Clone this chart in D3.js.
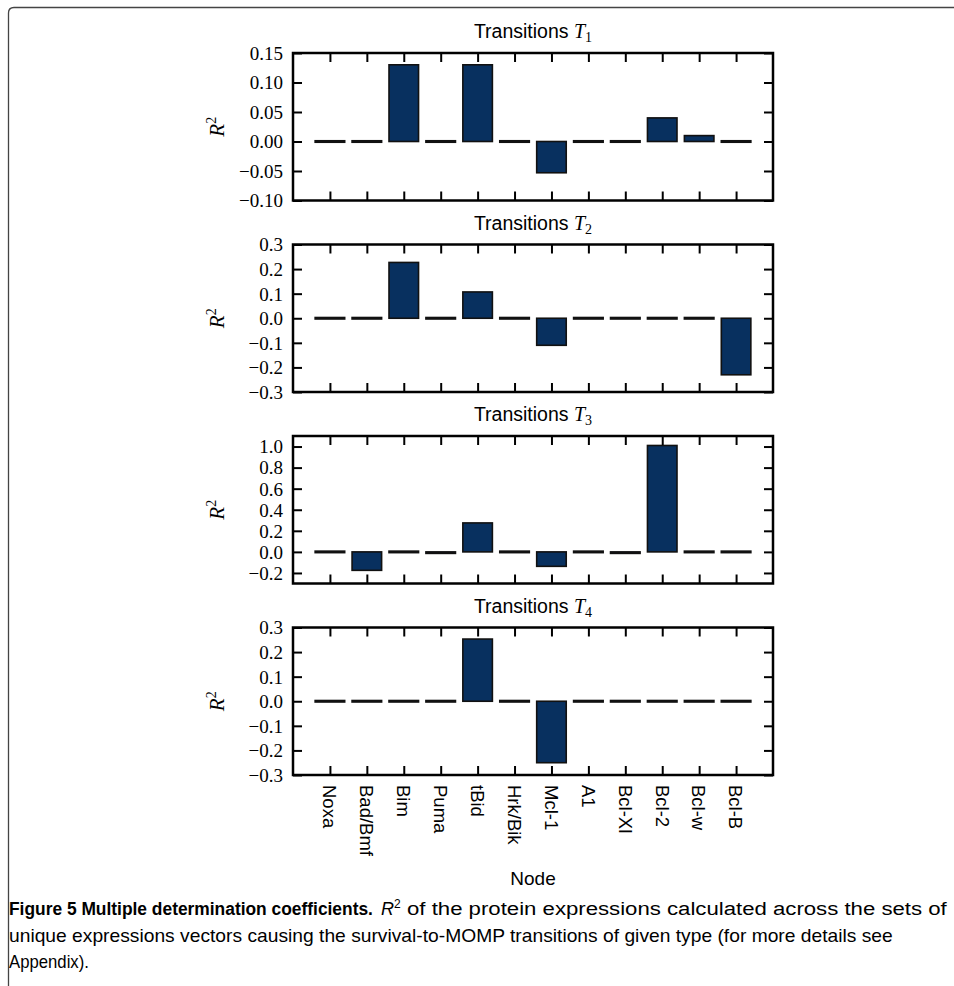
<!DOCTYPE html>
<html lang="en">
<head>
    <meta charset="UTF-8">
    <title>Multiple determination coefficients</title>
    <script src="https://d3js.org/d3.v7.min.js"></script>
    <style>
        body { margin: 0; background: #fff; }
    </style>
</head>
<body>
    <div id="chart"></div>

    <script>
        // Data
        const nodes = ["Noxa", "Bad/Bmf", "Bim", "Puma", "tBid", "Hrk/Bik", "Mcl-1", "A1", "Bcl-Xl", "Bcl-2", "Bcl-w", "Bcl-B"];
        const t1 = [0, 0, 0.13, 0, 0.13, 0, -0.053, 0, 0, 0.04, 0.01, 0];
        const t2 = [0, 0, 0.227, 0, 0.107, 0, -0.11, 0, 0, 0, 0, -0.23];
        const t3 = [0, -0.175, 0, -0.01, 0.275, 0, -0.137, 0, -0.01, 1.01, 0, 0];
        const t4 = [0, 0, 0, 0, 0.253, 0, -0.25, 0, 0, 0, 0, 0];
        const ticks1 = [-0.10, -0.05, 0.00, 0.05, 0.10, 0.15];
        const ticks2 = [-0.3, -0.2, -0.1, 0.0, 0.1, 0.2, 0.3];
        const ticks3 = [-0.2, 0.0, 0.2, 0.4, 0.6, 0.8, 1.0];
        const ticks4 = [-0.3, -0.2, -0.1, 0.0, 0.1, 0.2, 0.3];

        const panels = [
            { sub: "1", values: t1, domain: [-0.10, 0.15], ticks: ticks1, fmt: ".2f" },
            { sub: "2", values: t2, domain: [-0.3, 0.3], ticks: ticks2, fmt: ".1f" },
            { sub: "3", values: t3, domain: [-0.3, 1.1], ticks: ticks3, fmt: ".1f" },
            { sub: "4", values: t4, domain: [-0.3, 0.3], ticks: ticks4, fmt: ".1f" }
        ];

        const W = 954, H = 986;
        const left = 293, right = 773;
        const top0 = 53, pitch = 191.5, ph = 147.5;
        const sans = "'Liberation Sans', Arial, sans-serif";
        const serif = "'Liberation Serif', 'DejaVu Serif', serif";
        const barColor = "#08305f";

        const svg = d3.select("#chart")
            .append("svg")
            .attr("width", W)
            .attr("height", H);

        // page frame with rounded corner
        svg.append("path")
            .attr("d", "M8.5,986 L8.5,13 Q8.5,7.5 14,7.5 L954,7.5")
            .attr("fill", "none")
            .attr("stroke", "#444")
            .attr("stroke-width", 1.3);

        const x = d3.scaleLinear().domain([-1, 12]).range([left, right]);

        panels.forEach((p, k) => {
            const top = top0 + k * pitch;
            const y = d3.scaleLinear().domain(p.domain).range([top + ph, top]);
            const g = svg.append("g");

            // bars (zero values drawn as a thin dash)
            g.selectAll("rect.bar")
                .data(p.values)
                .enter().append("rect")
                .attr("class", "bar")
                .attr("x", (d, i) => x(i - 0.4))
                .attr("width", x(0.8) - x(0))
                .attr("y", d => Math.min(y(d), y(0)) - (d === 0 ? 0.75 : 0))
                .attr("height", d => Math.max(Math.abs(y(d) - y(0)), 1.5))
                .attr("fill", barColor)
                .attr("stroke", "#111")
                .attr("stroke-width", 1.6);

            // y axes (ticks inside)
            const fmt = d3.format(p.fmt);
            const yl = g.append("g")
                .attr("transform", `translate(${left},0)`)
                .call(d3.axisRight(y).tickValues(p.ticks).tickSize(9).tickFormat(""));
            const yr = g.append("g")
                .attr("transform", `translate(${right},0)`)
                .call(d3.axisLeft(y).tickValues(p.ticks).tickSize(9).tickFormat(""));
            [yl, yr].forEach(a => {
                a.select(".domain").remove();
                a.selectAll("line").attr("stroke", "#000").attr("stroke-width", 2);
            });

            // tick labels
            g.selectAll("text.ytick")
                .data(p.ticks)
                .enter().append("text")
                .attr("class", "ytick")
                .attr("x", left - 10)
                .attr("y", d => y(d))
                .attr("dy", "0.36em")
                .attr("text-anchor", "end")
                .style("font-family", serif)
                .style("font-size", "19px")
                .text(d => fmt(d));

            // x axes (ticks inside top and bottom)
            const xb = g.append("g")
                .attr("transform", `translate(0,${top + ph})`)
                .call(d3.axisTop(x).tickValues(d3.range(nodes.length)).tickSize(9).tickFormat(""));
            const xt = g.append("g")
                .attr("transform", `translate(0,${top})`)
                .call(d3.axisBottom(x).tickValues(d3.range(nodes.length)).tickSize(9).tickFormat(""));
            [xb, xt].forEach(a => {
                a.select(".domain").remove();
                a.selectAll("line").attr("stroke", "#000").attr("stroke-width", 2);
            });

            // frame
            g.append("rect")
                .attr("x", left)
                .attr("y", top)
                .attr("width", right - left)
                .attr("height", ph)
                .attr("fill", "none")
                .attr("stroke", "#000")
                .attr("stroke-width", 2.5);

            // title
            const title = g.append("text")
                .attr("x", (left + right) / 2)
                .attr("y", top - 15)
                .attr("text-anchor", "middle")
                .style("font-family", sans)
                .style("font-size", "19.5px");
            title.append("tspan").text("Transitions ");
            title.append("tspan").style("font-family", serif).style("font-style", "italic").style("font-size", "20px").text("T");
            title.append("tspan").style("font-family", serif).style("font-size", "14px").attr("dy", 4).text(p.sub);

            // y label
            const yc = top + ph / 2;
            const ylab = g.append("text")
                .attr("transform", `translate(224,${yc}) rotate(-90)`)
                .attr("text-anchor", "middle")
                .style("font-family", serif)
                .style("font-size", "21px");
            ylab.append("tspan").style("font-style", "italic").text("R");
            ylab.append("tspan").attr("dy", -8).style("font-size", "14px").text("2");
        });

        // category labels below the last panel
        const base = top0 + 3 * pitch + ph;
        svg.selectAll("text.node")
            .data(nodes)
            .enter().append("text")
            .attr("class", "node")
            .attr("transform", (d, i) => `translate(${x(i)},${base + 10}) rotate(90)`)
            .attr("dy", "0.36em")
            .style("font-family", sans)
            .style("font-size", "18.5px")
            .text(d => d);

        svg.append("text")
            .attr("x", (left + right) / 2)
            .attr("y", 885)
            .attr("text-anchor", "middle")
            .style("font-family", sans)
            .style("font-size", "19px")
            .text("Node");

        // caption: each piece is squeezed horizontally to the width it has in the figure
        const capFont = "'Liberation Sans', Arial, sans-serif";
        function fit(str, x0, y0, width, size, weight) {
            const t = svg.append("text")
                .style("font-family", capFont)
                .style("font-size", size + "px")
                .style("font-weight", weight || "normal")
                .text(str);
            const len = t.node().getComputedTextLength();
            t.attr("transform", `translate(${x0},${y0}) scale(${width / len},1)`);
            return t;
        }

        fit("Figure 5 Multiple determination coefficients.", 9, 915, 364, 18, "bold");
        const r2 = svg.append("text")
            .attr("x", 381).attr("y", 915)
            .style("font-family", capFont)
            .style("font-size", "18px");
        r2.append("tspan").style("font-style", "italic").text("R");
        r2.append("tspan").attr("dy", -7).style("font-size", "12px").text("2");
        fit("of the protein expressions calculated across the sets of", 407, 915, 540, 19);
        fit("unique expressions vectors causing the survival-to-MOMP transitions of given type (for more details see", 9, 942, 884, 18);
        fit("Appendix).", 9, 968, 80, 18);
    </script>
</body>
</html>
